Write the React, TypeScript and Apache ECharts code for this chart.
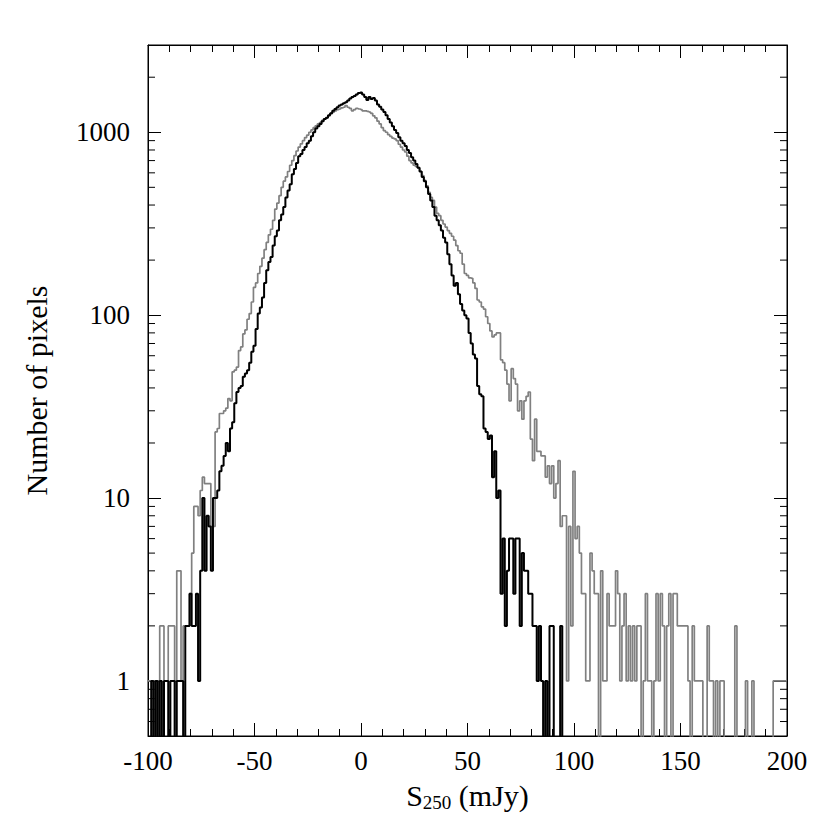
import React, { useEffect, useRef } from "react";
import * as echarts from "echarts";

// ---- data (bin width 1 mJy, bin centres start at -100) ----
const BIN_START = -100;
const BIN_WIDTH = 1;

// grey histogram, bins -100 .. 200
const greyCounts = [
  1, 1, 1, 1, 0, 1, 2, 2, 1, 1,
  2, 2, 2, 1, 4, 4, 1, 2, 2, 2,
  3, 5, 9, 9, 8, 11, 13, 12, 12, 12,
  7, 7, 23, 24, 29, 29, 30, 31, 35, 34,
  49, 50, 52, 64, 67, 79, 83, 95, 102, 118,
  142, 150, 169, 185, 205, 228, 250, 275, 295, 330,
  380, 410, 450, 500, 540, 570, 610, 660, 700, 745,
  790, 830, 865, 900, 935, 965, 1000, 1030, 1060, 1085,
  1110, 1130, 1160, 1180, 1200, 1230, 1265, 1290, 1310, 1330,
  1340, 1360, 1370, 1400, 1370, 1350, 1310, 1330, 1350, 1340,
  1330, 1310, 1310, 1300, 1290, 1270, 1230, 1200, 1150, 1110,
  1060, 1020, 1000, 970, 950, 930, 920, 900, 860, 830,
  800, 780, 740, 700, 680, 660, 650, 640, 610, 580,
  545, 510, 470, 440, 424, 390, 360, 350, 330, 315,
  303, 290, 280, 270, 257, 240, 225, 218, 190, 169,
  165, 160, 159, 150, 140, 121, 118, 111, 108, 98,
  90, 82, 76, 78, 80, 80, 57, 55, 50, 42,
  34, 51, 45, 42, 30, 34, 27, 34, 36, 38,
  21, 16, 27, 18, 18, 17, 17, 13, 15, 12,
  15, 10, 12, 16, 7, 8, 8,
  1, 7, 2, 14, 6, 7, 5, 3, 3, 1,
  1, 5, 4, 3, 3, 0, 4, 1, 1, 3,
  2, 2, 2, 4, 3, 1, 2, 3, 1, 2,
  1, 2, 1, 2, 2, 0, 1, 3, 1, 1,
  0, 1, 3, 1, 3, 2, 0, 2, 3, 0,
  3, 3, 2, 2, 2, 2, 2, 1, 0, 2,
  1, 1, 1, 1, 0, 0, 2, 1, 1, 0,
  1, 0, 1, 1, 0, 0, 0, 0, 0, 2,
  0, 0, 0, 0, 1, 0, 0, 1, 0, 0,
  0, 0, 0, 0, 0, 0, 0, 1, 1, 1,
  1, 1, 1, 1,
];

// black histogram, bins -100 .. 96
const blackCounts = [
  0, 0, 1, 0, 1, 0, 1, 0, 1, 1,
  0, 1, 1, 0, 1, 1, 1, 0, 2, 2,
  3, 2, 2, 3, 1, 4, 10, 4, 8, 7,
  4, 10, 10, 11, 14, 15, 17, 20, 18, 24,
  26, 33, 38, 40, 41, 46, 48, 50, 55, 63,
  68, 84, 102, 110, 125, 150, 176, 195, 208, 240,
  270, 290, 330, 355, 390, 440, 480, 520, 590, 630,
  680, 740, 760, 800, 830, 870, 900, 950, 1000, 1050,
  1080, 1110, 1150, 1180, 1200, 1240, 1270, 1310, 1340, 1370,
  1400, 1420, 1440, 1460, 1490, 1530, 1560, 1580, 1610, 1640,
  1650, 1610, 1560, 1500, 1560, 1520, 1540, 1490, 1420, 1380,
  1330, 1290, 1240, 1180, 1130, 1080, 1030, 990, 940, 900,
  870, 840, 800, 770, 730, 700, 670, 640, 610, 570,
  540, 500, 460, 424, 390, 350, 330, 310, 290, 265,
  250, 215, 190, 165, 145, 150, 130, 115, 106, 100,
  96, 80, 70, 61, 58, 41, 37, 36, 24, 23,
  21, 22, 13, 18, 10, 11, 3, 6, 2, 4,
  6, 6, 3, 6, 6, 2, 5, 4, 4, 3,
  3, 2, 2, 1, 2, 1, 0, 1, 0, 2,
  2, 0, 0, 0, 2, 0, 0,
];

const X_MIN = -100;
const X_MAX = 200;
const X_STEP = 50;
const Y_MIN = 0.5;
const Y_MAX = 3000;
const Y_MINOR_TICKS = [
  0.6, 0.7, 0.8, 0.9,
  2, 3, 4, 5, 6, 7, 8, 9,
  20, 30, 40, 50, 60, 70, 80, 90,
  200, 300, 400, 500, 600, 700, 800, 900,
  2000,
];
const ZERO_FLOOR = 0.05; // empty bins are drawn below the axis floor (clipped)

const FONT = "'Liberation Serif', 'Times New Roman', Times, serif";

function toSteps(counts: number[]) {
  return counts.map((c, i) => [BIN_START + i * BIN_WIDTH, c > 0 ? c : ZERO_FLOOR]);
}

export default function App() {
  const ref = useRef<HTMLDivElement>(null);
  useEffect(() => {
    if (!ref.current) return;
    const chart = echarts.init(ref.current, undefined, { renderer: "svg" });
    const tickLine = { lineStyle: { color: "#000", width: 1 } };
    const option: any = {
      animation: false,
      backgroundColor: "#fff",
      textStyle: { fontFamily: FONT, color: "#000" },
      grid: {
        left: 148,
        top: 45,
        width: 639,
        height: 691,
        show: true,
        borderColor: "#000",
        borderWidth: 1,
        backgroundColor: "transparent",
      },
      xAxis: [
        {
          type: "value",
          min: X_MIN,
          max: X_MAX,
          interval: X_STEP,
          position: "bottom",
          axisLine: { show: true, onZero: false, lineStyle: { color: "#000", width: 1 } },
          axisTick: { show: true, inside: true, length: 13, ...tickLine },
          minorTick: { show: true, splitNumber: 5, length: 7, ...tickLine },
          splitLine: { show: false },
          minorSplitLine: { show: false },
          axisLabel: { fontSize: 27, color: "#000", margin: 11, fontFamily: FONT },
          name: "{s|S}{sub|250}{s| (mJy)}",
          nameLocation: "middle",
          nameGap: 42,
          nameTextStyle: {
            color: "#000",
            rich: {
              s: { fontSize: 30, fontFamily: FONT, color: "#000" },
              sub: { fontSize: 19, fontFamily: FONT, color: "#000", padding: [15, 0, 0, 0] },
            },
          },
        },
        {
          type: "value",
          min: X_MIN,
          max: X_MAX,
          interval: X_STEP,
          position: "top",
          axisLine: { show: true, onZero: false, lineStyle: { color: "#000", width: 1 } },
          axisTick: { show: true, inside: true, length: 13, ...tickLine },
          minorTick: { show: true, splitNumber: 5, length: 7, ...tickLine },
          splitLine: { show: false },
          minorSplitLine: { show: false },
          axisLabel: { show: false },
        },
      ],
      yAxis: [
        {
          type: "log",
          logBase: 10,
          min: Y_MIN,
          max: Y_MAX,
          position: "left",
          axisLine: { show: true, onZero: false, lineStyle: { color: "#000", width: 1 } },
          axisTick: { show: true, inside: true, length: 13, ...tickLine },
          splitLine: { show: false },
          axisLabel: {
            fontSize: 27,
            color: "#000",
            margin: 18,
            fontFamily: FONT,
            showMinLabel: false,
            showMaxLabel: false,
            formatter: (v: number) => String(Math.round(v)),
          },
          name: "Number of pixels",
          nameLocation: "middle",
          nameGap: 97,
          nameTextStyle: { fontSize: 30, fontFamily: FONT, color: "#000" },
        },
        {
          type: "log",
          logBase: 10,
          min: Y_MIN,
          max: Y_MAX,
          position: "right",
          axisLine: { show: true, onZero: false, lineStyle: { color: "#000", width: 1 } },
          axisTick: { show: true, inside: true, length: 13, ...tickLine },
          splitLine: { show: false },
          axisLabel: { show: false },
        },
      ],
      series: [
        {
          type: "line",
          name: "grey",
          xAxisIndex: 0,
          yAxisIndex: 0,
          step: "middle",
          showSymbol: false,
          symbol: "none",
          clip: true,
          lineStyle: { color: "#808080", width: 1.7 },
          data: toSteps(greyCounts),
        },
        {
          type: "line",
          name: "black",
          xAxisIndex: 0,
          yAxisIndex: 0,
          step: "middle",
          showSymbol: false,
          symbol: "none",
          clip: true,
          lineStyle: { color: "#000", width: 2 },
          data: toSteps(blackCounts),
        },
        {
          type: "custom",
          xAxisIndex: 0,
          yAxisIndex: 0,
          silent: true,
          clip: false,
          data: Y_MINOR_TICKS.map((v) => [X_MIN, v]),
          renderItem: (params: any, api: any) => {
            const v = api.value(1);
            const l = api.coord([X_MIN, v]);
            const r = api.coord([X_MAX, v]);
            return {
              type: "group",
              children: [
                { type: "line", shape: { x1: l[0], y1: l[1], x2: l[0] + 7, y2: l[1] }, style: { stroke: "#000", lineWidth: 1 } },
                { type: "line", shape: { x1: r[0], y1: r[1], x2: r[0] - 7, y2: r[1] }, style: { stroke: "#000", lineWidth: 1 } },
              ],
            };
          },
        },
      ],
    };
    chart.setOption(option);
    return () => chart.dispose();
  }, []);
  return (
    <div
      ref={ref}
      style={{ position: "absolute", left: 0, top: 0, width: 830, height: 830, background: "#fff" }}
    />
  );
}
